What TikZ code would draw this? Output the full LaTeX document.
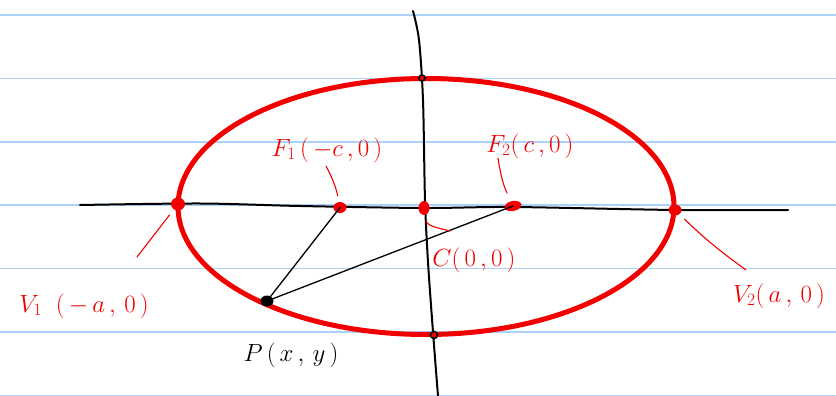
\documentclass[tikz,border=0pt]{standalone}
\usetikzlibrary{shapes.geometric}
\definecolor{inkred}{RGB}{242,0,0}
\definecolor{rulecol}{RGB}{172,210,250}
\begin{document}
\begin{tikzpicture}[x=1pt,y=-1pt,
  rulel/.style={rulecol, line width=1.8pt},
  axis/.style={black, line width=2pt, line cap=round, line join=round},
  curve/.style={inkred, line width=5pt},
  rdot/.style={ellipse, fill=inkred, inner sep=0pt, minimum width=13pt, minimum height=11pt},
  bdot/.style={ellipse, fill=black, inner sep=0pt, minimum width=13pt, minimum height=11pt},
  ring/.style={circle, draw=black, line width=1.6pt, inner sep=0pt, minimum size=6pt},
  lab/.style={inkred, font=\fontsize{25}{28}\selectfont, inner sep=0pt},
  blab/.style={black, font=\fontsize{25}{28}\selectfont, inner sep=0pt},
  leader/.style={inkred, line width=1.1pt, line cap=round},
  seg/.style={black, line width=1.3pt, line cap=round}]
\useasboundingbox (0,0) rectangle (836,396);
\fill[white] (0,0) rectangle (836,396);
\foreach \yy in {15,78.5,142,205.3,268.5,332,395.5} \draw[rulel] (0,\yy) -- (836,\yy);
% axes
\draw[axis] plot[smooth] coordinates {(80,205) (200,203.5) (300,206) (424,208) (513,207) (675,210) (788,210)};
\draw[axis] plot[smooth] coordinates {(413,11) (419,40) (423,100) (425,200) (428,262) (433,332) (438,396)};
% ellipse
\draw[curve] (426,206.5) ellipse [x radius=248pt, y radius=128pt];
% points
\node[rdot, minimum width=14pt, minimum height=13pt] (V1) at (178,204) {};
\node[rdot] (F1) at (340,207.5) {};
\node[rdot, minimum width=11pt, minimum height=14pt] (C) at (424,208) {};
\node[rdot, minimum width=17pt, minimum height=10pt, rotate=12] (F2) at (513,206) {};
\node[rdot] (V2) at (675,210) {};
\node[bdot] (P) at (267,301) {};
\node[ring] (T) at (422,78) {};
\node[ring, minimum size=7pt] (B) at (434,335) {};
% segments from P to foci
\draw[seg] (P.center) -- (F1.center);
\draw[seg] (P.center) -- (F2.center);
% labels
\node[lab] (F1l) at (327,150) {$F_1\,(\,-c\,,0\,)$};
\node[lab] (F2l) at (530,146) {$F_2(\,c\,,0\,)$};
\node[lab] (Cl) at (474,260) {$C(\,0\,,0\,)$};
\node[lab] (V1l) at (84,306) {$V_1\;\;(\,-\,a\,,\,0\,)$};
\node[lab] (V2l) at (779,296) {$V_2(\,a\,,\,0\,)$};
\node[blab] (Pl) at (291,355) {$P\,(\,x\,,\,y\,)$};
% leaders
\coordinate (v1e) at (137,257);
\draw[leader, shorten >=7pt] (v1e) -- (V1);
\coordinate (f1e) at (326,166);
\draw[leader, shorten >=6pt] (f1e) to[bend left=8] (F1);
\coordinate (f2e) at (498,158);
\draw[leader, shorten >=9pt] (f2e) to[bend right=8] (F2);
\coordinate (ce) at (450,231);
\draw[leader, shorten >=6pt] (ce) to[out=165,in=-80] (C);
\coordinate (v2e) at (746,270);
\draw[leader, shorten >=7pt] (v2e) to[bend left=4] (V2);
\end{tikzpicture}
\end{document}
